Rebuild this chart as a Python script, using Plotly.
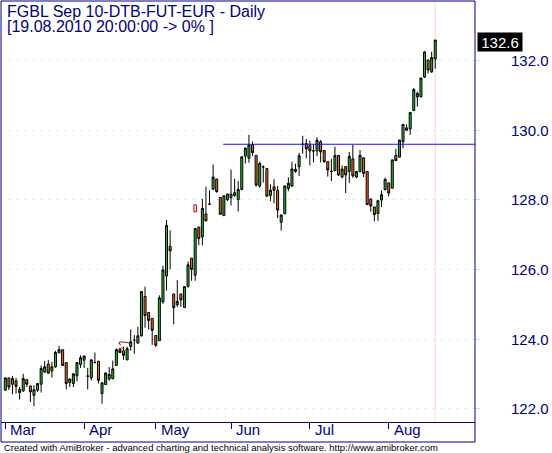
import plotly.graph_objects as go

# ---------------- data ----------------
opens = [122.54, 122.89, 122.71, 122.81, 122.56, 122.52, 122.84, 122.66, 122.39, 122.54,
         122.71, 123.06, 123.29, 123.09, 123.21, 123.61, 123.70, 123.33, 122.76, 122.73,
         122.95, 123.28, 123.40, 122.94, 122.89, 123.33, 123.37, 122.44, 122.70, 122.86,
         122.87, 123.25, 123.72, 123.67, 123.41, 123.79, 123.97, 123.89, 124.10, 125.23,
         124.77, 124.60, 124.11, 123.96, 125.07, 125.82, 126.67, 125.30, 124.99, 125.30,
         124.91, 125.52, 126.33, 125.84, 127.22, 126.94, 127.60, 127.88, 128.31, 128.60,
         128.07, 127.55, 128.01, 128.07, 128.21, 128.01, 128.30, 129.26, 129.20, 129.59,
         129.28, 128.40, 128.95, 128.90, 128.13, 128.38, 128.27, 127.36, 127.61, 128.33,
         128.40, 128.88, 128.95, 129.60, 129.62, 129.56, 129.41, 129.41, 129.67, 129.42,
         129.10, 128.82, 128.84, 129.28, 128.66, 128.96, 128.82, 129.18, 128.66, 128.82,
         129.21, 128.82, 128.03, 127.80, 127.61, 128.00, 128.30, 128.49, 128.34, 129.28,
         129.23, 129.67, 130.07, 130.04, 130.57, 130.96, 130.96, 131.53, 132.02, 131.68,
         132.05]
highs = [122.90, 122.90, 122.95, 122.89, 122.63, 123.01, 122.85, 122.67, 122.68, 122.74,
         123.25, 123.38, 123.40, 123.35, 123.67, 123.81, 123.71, 123.34, 122.87, 123.02,
         123.34, 123.54, 123.53, 123.18, 123.42, 123.62, 123.38, 122.76, 123.05, 123.20,
         123.39, 123.74, 123.75, 123.79, 123.79, 124.28, 124.12, 124.36, 125.38, 125.51,
         124.78, 124.61, 124.12, 125.26, 126.11, 127.43, 127.13, 125.31, 125.70, 125.31,
         125.52, 126.23, 126.34, 127.19, 127.23, 128.03, 128.38, 128.28, 129.02, 128.61,
         128.08, 128.13, 128.18, 128.87, 128.61, 128.55, 129.25, 129.50, 129.87, 129.68,
         129.29, 129.10, 128.99, 128.92, 128.45, 128.60, 128.40, 127.58, 128.42, 128.65,
         129.10, 129.04, 129.35, 129.84, 129.75, 129.70, 129.60, 129.80, 129.72, 129.43,
         129.11, 129.18, 129.53, 129.29, 128.99, 128.97, 129.38, 129.58, 128.83, 129.43,
         129.22, 128.83, 128.04, 127.81, 127.99, 128.27, 128.64, 128.50, 129.16, 129.47,
         129.73, 130.18, 130.17, 130.52, 131.21, 131.11, 131.51, 132.27, 132.03, 132.26,
         132.60]
lows = [122.53, 122.54, 122.42, 122.44, 122.27, 122.49, 122.63, 122.20, 122.08, 122.49,
        122.47, 123.04, 123.01, 122.90, 123.18, 123.60, 123.24, 122.56, 122.63, 122.63,
        122.79, 123.18, 123.18, 122.56, 122.82, 123.32, 122.73, 122.15, 122.69, 122.81,
        122.85, 123.24, 123.61, 123.41, 123.40, 123.67, 123.58, 123.88, 124.08, 124.33,
        124.28, 123.84, 123.78, 123.95, 125.02, 125.40, 126.01, 124.43, 124.93, 124.93,
        124.90, 125.48, 125.68, 125.68, 126.70, 126.70, 127.39, 127.87, 128.28, 128.21,
        127.58, 127.54, 127.97, 127.84, 128.09, 127.67, 128.28, 129.05, 129.07, 129.26,
        128.38, 128.35, 128.50, 128.09, 127.97, 127.90, 127.48, 127.12, 127.58, 128.25,
        128.38, 128.78, 128.69, 129.33, 129.20, 128.99, 129.08, 129.26, 129.08, 129.07,
        128.67, 128.54, 128.83, 128.69, 128.62, 128.20, 128.49, 128.64, 128.62, 128.79,
        128.66, 127.85, 127.66, 127.39, 127.40, 127.80, 128.27, 128.10, 128.33, 129.12,
        129.22, 129.48, 129.99, 129.87, 130.55, 130.68, 130.95, 131.50, 131.63, 131.65,
        131.77]
closes = [122.89, 122.63, 122.87, 122.65, 122.47, 122.87, 122.71, 122.49, 122.55, 122.73,
          123.16, 123.21, 123.03, 123.21, 123.62, 123.70, 123.25, 122.73, 122.86, 123.01,
          123.33, 123.47, 123.52, 122.94, 123.41, 123.33, 122.82, 122.75, 123.03, 122.99,
          123.15, 123.70, 123.62, 123.54, 123.73, 123.93, 123.97, 124.10, 125.37, 124.68,
          124.54, 124.26, 123.83, 125.19, 125.99, 127.27, 126.54, 124.91, 125.09, 125.13,
          125.51, 126.14, 126.01, 127.18, 126.89, 127.76, 127.40, 127.88, 128.66, 128.24,
          127.59, 128.12, 128.17, 128.17, 128.13, 128.30, 129.24, 129.49, 129.58, 129.36,
          128.43, 129.05, 128.95, 128.11, 128.28, 128.28, 127.71, 127.57, 128.40, 128.48,
          128.89, 128.82, 129.27, 129.60, 129.47, 129.41, 129.41, 129.72, 129.38, 129.10,
          128.86, 128.82, 129.28, 128.72, 128.89, 128.72, 129.25, 128.69, 128.82, 129.28,
          128.76, 127.87, 127.83, 127.58, 127.98, 128.15, 128.59, 128.20, 129.15, 129.13,
          129.72, 130.17, 130.00, 130.51, 131.17, 131.06, 131.50, 132.25, 131.73, 132.09,
          132.59]

month_labels = ["Mar", "Apr", "May", "Jun", "Jul", "Aug"]
month_start_idx = [0, 22, 42, 63, 85, 107]
y_tick_values = [122, 124, 126, 128, 130, 132]

title_line1 = "FGBL Sep 10-DTB-FUT-EUR - Daily"
title_line2 = "[19.08.2010 20:00:00 -> 0% ]"
footer_text = ("Created with AmiBroker - advanced charting and technical analysis "
               "software. http://www.amibroker.com")

# horizontal study line
hline_start_idx = 60.8
hline_price = 129.6

# small red marker (hollow box) and small red drawing
marker_idx = [53]
marker_low = [127.66]
marker_high = [127.86]
draw_solid_x = [31.8, 31.8, 33.4, 34.8]
draw_solid_y = [123.86, 123.92, 123.92, 123.89]
draw_dot_x = [31.9, 33.5]
draw_dot_y = [123.88, 123.58]

# ---------------- styling ----------------
NAVY = "#000080"
GREEN = "#2db82d"
ORANGE = "#f76b1c"
FONT = "Liberation Sans, Arial, sans-serif"

n = len(closes)
x_idx = list(range(n))
x_range = [-1.2, 131.09]
y_range = [121.625, 133.713]

fig = go.Figure()

fig.add_trace(go.Candlestick(
    x=x_idx, open=opens, high=highs, low=lows, close=closes,
    increasing=dict(fillcolor=GREEN, line=dict(color="black", width=1)),
    decreasing=dict(fillcolor=ORANGE, line=dict(color="black", width=1)),
    whiskerwidth=0, showlegend=False, hoverinfo="skip",
))

fig.add_trace(go.Scatter(
    x=[hline_start_idx, x_range[1]], y=[hline_price, hline_price],
    mode="lines", line=dict(color="#1414f0", width=1),
    showlegend=False, hoverinfo="skip",
))

fig.add_trace(go.Scatter(
    x=draw_solid_x, y=draw_solid_y, mode="lines",
    line=dict(color="#b00000", width=1), showlegend=False, hoverinfo="skip",
))
fig.add_trace(go.Scatter(
    x=draw_dot_x, y=draw_dot_y, mode="lines",
    line=dict(color="#b00000", width=1, dash="2px,2px"), showlegend=False, hoverinfo="skip",
))

shapes = []
band_px = 20
plot_h = 453 - 1 - 31
shapes.append(dict(type="rect", xref="paper", yref="paper", x0=0, x1=1,
                   y0=-band_px / plot_h, y1=1, line=dict(color=NAVY, width=1),
                   fillcolor="rgba(0,0,0,0)", layer="above"))
shapes.append(dict(type="line", xref="x", yref="paper", x0=n - 1, x1=n - 1, y0=0, y1=1,
                   line=dict(color="#ffd6d6", width=1), layer="below"))
for i, lo, hi in zip(marker_idx, marker_low, marker_high):
    shapes.append(dict(type="rect", xref="x", yref="y", x0=i - 0.35, x1=i + 0.35,
                       y0=lo, y1=hi, line=dict(color="#c00000", width=1),
                       fillcolor="rgba(0,0,0,0)", layer="above"))

annotations = []
annotations.append(dict(text=title_line1, xref="paper", yref="paper", x=0, y=1,
                        xanchor="left", yanchor="top", xshift=4, yshift=0,
                        showarrow=False, font=dict(family=FONT, size=16, color=NAVY)))
annotations.append(dict(text=title_line2, xref="paper", yref="paper", x=0, y=1,
                        xanchor="left", yanchor="top", xshift=4, yshift=-15,
                        showarrow=False, font=dict(family=FONT, size=16, color=NAVY)))
for lab, idx in zip(month_labels, month_start_idx):
    annotations.append(dict(text=lab, xref="x", yref="paper", x=idx, y=0,
                            xanchor="left", yanchor="top", xshift=3, yshift=3,
                            showarrow=False, font=dict(family=FONT, size=15, color=NAVY)))
annotations.append(dict(text=footer_text, xref="paper", yref="paper", x=0,
                        y=-band_px / plot_h, xanchor="left", yanchor="top",
                        xshift=1, yshift=2, showarrow=False,
                        font=dict(family=FONT, size=9.5, color="black")))
annotations.append(dict(text=f"{closes[-1]:.1f}", xref="paper", yref="y", x=1,
                        y=closes[-1], xanchor="left", yanchor="middle", xshift=1.5,
                        yshift=-2, showarrow=False, bgcolor="black", borderpad=1,
                        width=42, height=16,
                        font=dict(family=FONT, size=15, color="white")))

fig.update_layout(
    width=552, height=453,
    margin=dict(l=1, r=77, t=1, b=31, pad=0),
    paper_bgcolor="white", plot_bgcolor="white",
    showlegend=False, boxgap=0.2,
    shapes=shapes, annotations=annotations,
    xaxis=dict(range=x_range, rangeslider=dict(visible=False), showgrid=False,
               zeroline=False, showline=True, linecolor=NAVY, linewidth=1,
               tickmode="array", tickvals=month_start_idx, ticks="outside",
               ticklen=6, tickcolor=NAVY, tickwidth=1, showticklabels=False,
               fixedrange=True),
    yaxis=dict(range=y_range, side="right", tickmode="array",
               tickvals=y_tick_values, ticktext=[f"{v:.1f}" for v in y_tick_values],
               ticks="outside", ticklen=4, tickcolor="#a0eaea", ticklabelstandoff=28,
               tickfont=dict(family=FONT, size=15, color=NAVY),
               showgrid=True, gridcolor="#8fdfdf", gridwidth=1, griddash="1px,7px",
               zeroline=False, showline=False, fixedrange=True),
)

fig.write_html(
    "out.html",
    config={"displayModeBar": False},
    post_script="document.body.style.margin='0';document.body.style.padding='0';"
                "document.body.style.overflow='hidden';",
)
